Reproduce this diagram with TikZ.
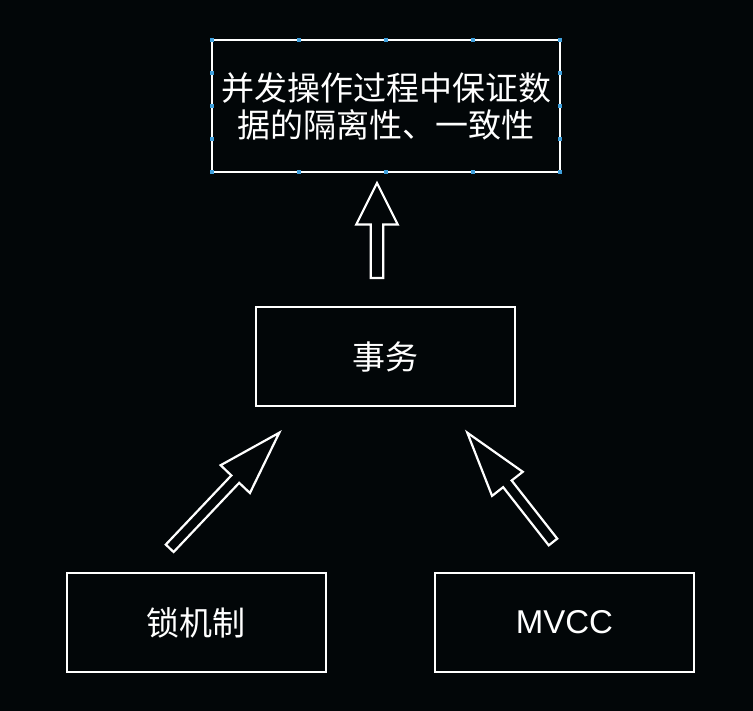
\documentclass[tikz,border=0pt]{standalone}
\usepackage{fontspec}
\setmainfont{Noto Sans CJK SC}
\newfontfamily\latinfont{Liberation Sans}
\usetikzlibrary{calc}
\definecolor{bgBlack}{RGB}{2,6,8}
\definecolor{selBlue}{RGB}{64,160,220}
\tikzstyle{box} = [draw=white, line width=2pt, text=white, inner sep=0pt, outer sep=0pt, minimum width=259pt, minimum height=99pt, align=center, font=\fontsize{33}{37}\selectfont]
\tikzstyle{hollow} = [draw=white, line width=2.2pt, line join=miter]
\tikzstyle{handle} = [fill=selBlue, minimum size=4pt, inner sep=0pt]

% block arrow: tail, tip, head length, head half width, shaft half width
\newcommand{\hollowarrow}[5]{%
  \coordinate (hb) at ($(#2)!#3!(#1)$);
  \draw[hollow] ($(#1)!#5!-90:(#2)$) -- ($(hb)!#5!-90:(#2)$) -- ($(hb)!#4!-90:(#2)$) -- (#2)
    -- ($(hb)!#4!90:(#2)$) -- ($(hb)!#5!90:(#2)$) -- ($(#1)!#5!90:(#2)$) -- cycle;
}

\begin{document}
\begin{tikzpicture}[x=1pt, y=-1pt]
        % Background
        \fill [bgBlack] (0,0) rectangle (753,711);
        \useasboundingbox (0,0) rectangle (753,711);

        % Nodes
        \node [box, minimum width=348pt, minimum height=132pt] (goal) at (386,106) {并发操作过程中保证数\\据的隔离性、一致性};
        \node [box] (tx) at (385.5,356.5) {事务};
        \node [box] (lock) at (196,622.5) {锁机制};
        \node [box] (mvcc) at (564.5,622.5) {\latinfont MVCC};

        % Selection handles
        \foreach \i in {0,1,2,3,4} {
            \node [handle] at ($(goal.north west)!\i/4!(goal.north east)$) {};
            \node [handle] at ($(goal.south west)!\i/4!(goal.south east)$) {};
            \node [handle] at ($(goal.north west)!\i/4!(goal.south west)$) {};
            \node [handle] at ($(goal.north east)!\i/4!(goal.south east)$) {};
        }

        % Arrows
        \coordinate (upTail) at (377,278);
        \coordinate (upTip) at (377,183);
        \coordinate (lockTail) at (169.7,548.3);
        \coordinate (lockTip) at (279.3,432.7);
        \coordinate (mvccTail) at (553,542);
        \coordinate (mvccTip) at (467.3,432.7);

        \hollowarrow{upTail}{upTip}{41.6pt}{20.8pt}{6.3pt}
        \hollowarrow{lockTail}{lockTip}{64pt}{20.2pt}{5.4pt}
        \hollowarrow{mvccTail}{mvccTip}{65pt}{19.5pt}{5.4pt}
\end{tikzpicture}
\end{document}
